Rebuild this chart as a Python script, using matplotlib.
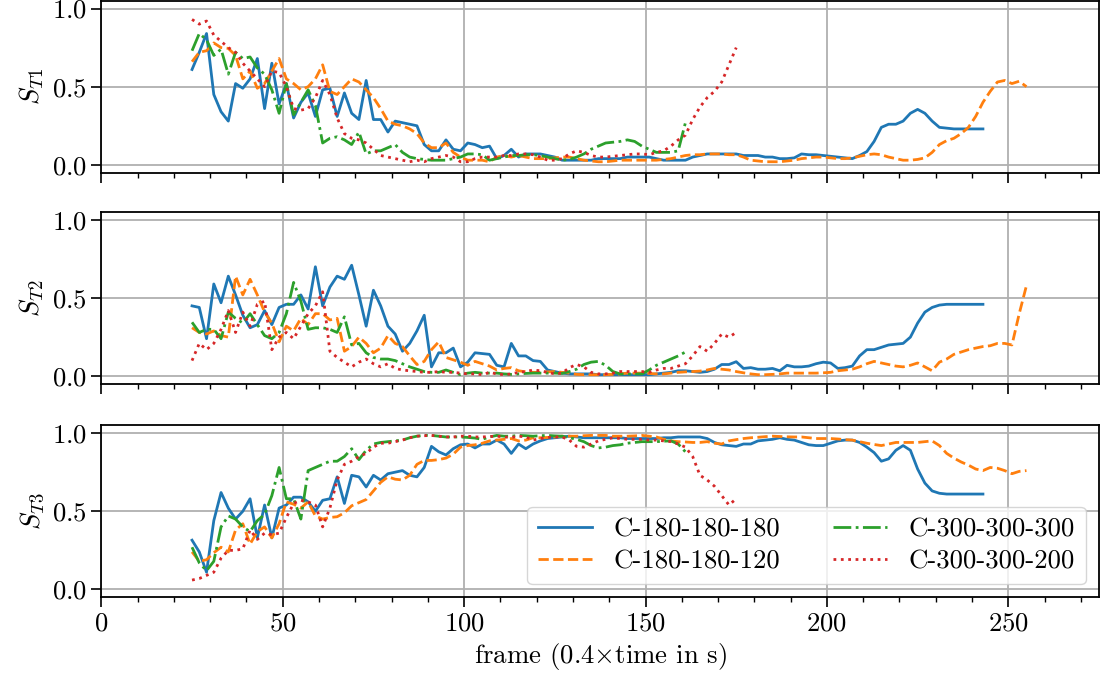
import numpy as np
import matplotlib
matplotlib.use("Agg")
import matplotlib.pyplot as plt
from matplotlib.ticker import MultipleLocator

plt.rcParams.update({
    "font.family": "serif",
    "font.serif": ["cmr10"],
    "mathtext.fontset": "cm",
    "axes.formatter.use_mathtext": True,
    "font.size": 19.3,
})

labels = ["C-180-180-180", "C-180-180-120", "C-300-300-300", "C-300-300-200"]
colors = ["#1f77b4", "#ff7f0e", "#2ca02c", "#d62728"]
styles = ["-", "--", "-.", ":"]
ylabels = [r"$S_{T1}$", r"$S_{T2}$", r"$S_{T3}$"]
first_frame = 25
frame_step = 2

# ---- S_T1 ----
st1_c180_180_180 = [
    0.61, 0.72, 0.84, 0.45, 0.34, 0.28, 0.52, 0.49, 0.55, 0.68,
    0.36, 0.65, 0.39, 0.52, 0.30, 0.40, 0.46, 0.31, 0.48, 0.49,
    0.31, 0.46, 0.33, 0.29, 0.54, 0.29, 0.29, 0.21, 0.28, 0.27,
    0.26, 0.25, 0.13, 0.09, 0.09, 0.16, 0.10, 0.09, 0.14, 0.13,
    0.11, 0.12, 0.04, 0.06, 0.10, 0.05, 0.07, 0.07, 0.07, 0.06,
    0.05, 0.03, 0.03, 0.03, 0.03, 0.03, 0.04, 0.04, 0.04, 0.04,
    0.05, 0.05, 0.05, 0.05, 0.04, 0.03, 0.03, 0.03, 0.03, 0.05,
    0.06, 0.07, 0.07, 0.07, 0.07, 0.07, 0.06, 0.06, 0.06, 0.05,
    0.05, 0.04, 0.04, 0.045, 0.07, 0.065, 0.065, 0.06, 0.055, 0.05,
    0.045, 0.04, 0.06, 0.085, 0.15, 0.24, 0.26, 0.26, 0.28, 0.33,
    0.355, 0.33, 0.28, 0.24, 0.235, 0.23, 0.23, 0.23, 0.23, 0.23]
st1_c180_180_120 = [
    0.66, 0.72, 0.73, 0.78, 0.75, 0.745, 0.70, 0.55, 0.60, 0.49,
    0.52, 0.60, 0.68, 0.55, 0.52, 0.48, 0.50, 0.55, 0.64, 0.47,
    0.45, 0.50, 0.55, 0.53, 0.48, 0.43, 0.36, 0.28, 0.26, 0.25,
    0.23, 0.20, 0.14, 0.11, 0.11, 0.14, 0.08, 0.05, 0.03, 0.03,
    0.03, 0.02, 0.05, 0.06, 0.05, 0.06, 0.05, 0.04, 0.04, 0.04,
    0.045, 0.05, 0.05, 0.04, 0.03, 0.025, 0.02, 0.02, 0.025, 0.03,
    0.03, 0.03, 0.03, 0.03, 0.03, 0.035, 0.04, 0.05, 0.06, 0.065,
    0.065, 0.07, 0.07, 0.07, 0.065, 0.065, 0.05, 0.03, 0.025, 0.02,
    0.02, 0.02, 0.025, 0.03, 0.04, 0.045, 0.05, 0.05, 0.045, 0.04,
    0.04, 0.045, 0.055, 0.065, 0.07, 0.065, 0.05, 0.04, 0.03, 0.03,
    0.035, 0.045, 0.08, 0.13, 0.155, 0.17, 0.20, 0.24, 0.31, 0.40,
    0.47, 0.53, 0.54, 0.52, 0.535, 0.50]
st1_c300_300_300 = [
    0.73, 0.84, 0.80, 0.70, 0.74, 0.58, 0.72, 0.68, 0.69, 0.62,
    0.58, 0.48, 0.33, 0.52, 0.32, 0.40, 0.48, 0.38, 0.14, 0.17,
    0.18, 0.16, 0.13, 0.21, 0.07, 0.09, 0.09, 0.11, 0.13, 0.08,
    0.05, 0.04, 0.035, 0.03, 0.03, 0.03, 0.04, 0.05, 0.07, 0.07,
    0.065, 0.03, 0.04, 0.05, 0.06, 0.06, 0.065, 0.065, 0.06, 0.05,
    0.04, 0.03, 0.035, 0.05, 0.07, 0.10, 0.12, 0.14, 0.145, 0.15,
    0.16, 0.15, 0.12, 0.10, 0.08, 0.08, 0.08, 0.09, 0.27]
st1_c300_300_200 = [
    0.93, 0.90, 0.92, 0.83, 0.79, 0.75, 0.72, 0.65, 0.60, 0.55,
    0.50, 0.60, 0.59, 0.50, 0.36, 0.35, 0.36, 0.43, 0.54, 0.45,
    0.30, 0.20, 0.17, 0.16, 0.14, 0.10, 0.06, 0.05, 0.04, 0.03,
    0.02, 0.03, 0.02, 0.04, 0.05, 0.06, 0.05, 0.02, 0.02, 0.04,
    0.05, 0.05, 0.05, 0.06, 0.06, 0.07, 0.07, 0.065, 0.05, 0.03,
    0.03, 0.04, 0.07, 0.09, 0.08, 0.06, 0.05, 0.05, 0.055, 0.06,
    0.065, 0.07, 0.07, 0.065, 0.08, 0.09, 0.12, 0.16, 0.19, 0.29,
    0.37, 0.43, 0.47, 0.53, 0.64, 0.75]

# ---- S_T2 ----
st2_c180_180_180 = [
    0.45, 0.44, 0.24, 0.59, 0.47, 0.64, 0.52, 0.39, 0.31, 0.33,
    0.42, 0.33, 0.44, 0.46, 0.46, 0.52, 0.43, 0.70, 0.45, 0.57,
    0.64, 0.62, 0.71, 0.52, 0.32, 0.55, 0.45, 0.32, 0.27, 0.16,
    0.21, 0.29, 0.39, 0.06, 0.15, 0.15, 0.18, 0.06, 0.09, 0.15,
    0.145, 0.14, 0.07, 0.06, 0.21, 0.13, 0.13, 0.10, 0.095, 0.04,
    0.03, 0.02, 0.015, 0.015, 0.015, 0.015, 0.01, 0.01, 0.01, 0.01,
    0.01, 0.01, 0.01, 0.01, 0.015, 0.02, 0.025, 0.035, 0.035, 0.03,
    0.025, 0.03, 0.045, 0.075, 0.075, 0.093, 0.05, 0.055, 0.045, 0.045,
    0.05, 0.035, 0.07, 0.06, 0.06, 0.065, 0.08, 0.09, 0.085, 0.05,
    0.055, 0.065, 0.13, 0.17, 0.17, 0.185, 0.20, 0.205, 0.21, 0.25,
    0.34, 0.41, 0.44, 0.455, 0.46, 0.46, 0.46, 0.46, 0.46, 0.46]
st2_c180_180_120 = [
    0.31, 0.28, 0.27, 0.29, 0.26, 0.25, 0.64, 0.52, 0.62, 0.52,
    0.41, 0.34, 0.22, 0.32, 0.29, 0.37, 0.33, 0.40, 0.40, 0.36,
    0.37, 0.16, 0.19, 0.25, 0.21, 0.15, 0.18, 0.26, 0.21, 0.19,
    0.13, 0.075, 0.095, 0.17, 0.22, 0.12, 0.105, 0.09, 0.07, 0.095,
    0.08, 0.065, 0.04, 0.05, 0.055, 0.035, 0.028, 0.025, 0.025, 0.028,
    0.03, 0.025, 0.02, 0.012, 0.01, 0.01, 0.01, 0.01, 0.012, 0.015,
    0.02, 0.02, 0.02, 0.018, 0.015, 0.015, 0.02, 0.025, 0.028, 0.03,
    0.033, 0.04, 0.05, 0.045, 0.04, 0.03, 0.022, 0.015, 0.01, 0.01,
    0.012, 0.015, 0.02, 0.02, 0.02, 0.02, 0.02, 0.022, 0.025, 0.035,
    0.04, 0.045, 0.06, 0.08, 0.095, 0.085, 0.075, 0.065, 0.06, 0.07,
    0.085, 0.06, 0.035, 0.09, 0.11, 0.14, 0.155, 0.17, 0.18, 0.19,
    0.195, 0.21, 0.21, 0.20, 0.40, 0.58]
st2_c300_300_300 = [
    0.345, 0.28, 0.30, 0.30, 0.24, 0.41, 0.37, 0.34, 0.40, 0.33,
    0.26, 0.24, 0.28, 0.40, 0.60, 0.48, 0.30, 0.31, 0.31, 0.30,
    0.28, 0.38, 0.20, 0.21, 0.15, 0.12, 0.11, 0.11, 0.10, 0.08,
    0.06, 0.045, 0.03, 0.025, 0.025, 0.04, 0.025, 0.01, 0.02, 0.025,
    0.02, 0.02, 0.02, 0.015, 0.012, 0.015, 0.018, 0.02, 0.02, 0.02,
    0.02, 0.018, 0.03, 0.045, 0.075, 0.09, 0.095, 0.07, 0.03, 0.015,
    0.015, 0.015, 0.015, 0.04, 0.07, 0.09, 0.11, 0.13, 0.155]
st2_c300_300_200 = [
    0.10, 0.21, 0.17, 0.21, 0.30, 0.42, 0.28, 0.41, 0.32, 0.46,
    0.48, 0.17, 0.25, 0.28, 0.24, 0.32, 0.40, 0.45, 0.54, 0.16,
    0.12, 0.09, 0.06, 0.09, 0.11, 0.08, 0.06, 0.08, 0.05, 0.04,
    0.035, 0.03, 0.025, 0.025, 0.03, 0.025, 0.025, 0.02, 0.015, 0.015,
    0.01, 0.025, 0.015, 0.01, 0.015, 0.025, 0.03, 0.04, 0.035, 0.025,
    0.015, 0.02, 0.055, 0.075, 0.06, 0.025, 0.015, 0.015, 0.02, 0.03,
    0.03, 0.03, 0.03, 0.025, 0.04, 0.05, 0.05, 0.065, 0.08, 0.13,
    0.19, 0.16, 0.21, 0.27, 0.25, 0.28]

# ---- S_T3 ----
st3_c180_180_180 = [
    0.315, 0.24, 0.11, 0.44, 0.62, 0.52, 0.45, 0.50, 0.58, 0.33,
    0.54, 0.33, 0.52, 0.54, 0.59, 0.59, 0.56, 0.50, 0.57, 0.58,
    0.72, 0.55, 0.73, 0.72, 0.655, 0.73, 0.70, 0.74, 0.75, 0.76,
    0.73, 0.72, 0.78, 0.915, 0.88, 0.86, 0.90, 0.925, 0.93, 0.905,
    0.93, 0.93, 0.955, 0.93, 0.87, 0.93, 0.90, 0.93, 0.95, 0.965,
    0.97, 0.975, 0.98, 0.975, 0.97, 0.97, 0.97, 0.97, 0.97, 0.97,
    0.965, 0.965, 0.965, 0.965, 0.965, 0.97, 0.97, 0.975, 0.975, 0.975,
    0.975, 0.965, 0.94, 0.925, 0.92, 0.915, 0.93, 0.93, 0.95, 0.955,
    0.96, 0.97, 0.96, 0.955, 0.94, 0.925, 0.92, 0.92, 0.935, 0.95,
    0.955, 0.955, 0.94, 0.91, 0.875, 0.82, 0.835, 0.89, 0.92, 0.89,
    0.77, 0.68, 0.63, 0.615, 0.61, 0.61, 0.61, 0.61, 0.61, 0.61]
st3_c180_180_120 = [
    0.24, 0.18, 0.19, 0.235, 0.27, 0.24, 0.38, 0.42, 0.29, 0.37,
    0.40, 0.33, 0.42, 0.56, 0.545, 0.52, 0.56, 0.47, 0.45, 0.46,
    0.465, 0.49, 0.535, 0.555, 0.575, 0.63, 0.685, 0.72, 0.705, 0.70,
    0.73, 0.80, 0.825, 0.825, 0.83, 0.84, 0.865, 0.91, 0.92, 0.925,
    0.935, 0.95, 0.955, 0.96, 0.965, 0.95, 0.955, 0.97, 0.97, 0.972,
    0.975, 0.98, 0.98, 0.98, 0.983, 0.985, 0.985, 0.985, 0.98, 0.98,
    0.98, 0.982, 0.985, 0.98, 0.975, 0.96, 0.95, 0.945, 0.943, 0.94,
    0.94, 0.945, 0.935, 0.93, 0.95, 0.958, 0.965, 0.97, 0.973, 0.977,
    0.98, 0.978, 0.976, 0.975, 0.975, 0.97, 0.965, 0.965, 0.965, 0.962,
    0.958, 0.955, 0.945, 0.935, 0.927, 0.92, 0.93, 0.94, 0.94, 0.94,
    0.94, 0.945, 0.95, 0.92, 0.87, 0.84, 0.815, 0.795, 0.77, 0.76,
    0.78, 0.775, 0.76, 0.74, 0.755, 0.76]
st3_c300_300_300 = [
    0.27, 0.17, 0.12, 0.18, 0.40, 0.47, 0.45, 0.40, 0.37, 0.44,
    0.48, 0.60, 0.78, 0.58, 0.58, 0.45, 0.76, 0.78, 0.80, 0.82,
    0.82, 0.85, 0.90, 0.83, 0.89, 0.93, 0.94, 0.945, 0.95, 0.955,
    0.97, 0.98, 0.985, 0.985, 0.98, 0.975, 0.975, 0.975, 0.972, 0.968,
    0.96, 0.975, 0.985, 0.98, 0.98, 0.985, 0.983, 0.98, 0.983, 0.985,
    0.982, 0.98, 0.97, 0.96, 0.945, 0.92, 0.905, 0.91, 0.92, 0.925,
    0.935, 0.94, 0.945, 0.945, 0.945, 0.948, 0.95, 0.93, 0.88]
st3_c300_300_200 = [
    0.06, 0.07, 0.09, 0.11, 0.20, 0.25, 0.25, 0.26, 0.38, 0.32,
    0.36, 0.35, 0.36, 0.46, 0.55, 0.57, 0.56, 0.54, 0.40, 0.52,
    0.70, 0.80, 0.82, 0.85, 0.87, 0.91, 0.935, 0.935, 0.945, 0.955,
    0.97, 0.98, 0.983, 0.985, 0.98, 0.975, 0.975, 0.98, 0.98, 0.975,
    0.975, 0.978, 0.98, 0.975, 0.972, 0.98, 0.975, 0.955, 0.965, 0.972,
    0.975, 0.975, 0.955, 0.915, 0.91, 0.93, 0.95, 0.96, 0.97, 0.965,
    0.96, 0.96, 0.96, 0.955, 0.955, 0.95, 0.945, 0.93, 0.91, 0.85,
    0.73, 0.70, 0.66, 0.60, 0.54, 0.58]

panels = [
    [st1_c180_180_180, st1_c180_180_120, st1_c300_300_300, st1_c300_300_200],
    [st2_c180_180_180, st2_c180_180_120, st2_c300_300_300, st2_c300_300_200],
    [st3_c180_180_180, st3_c180_180_120, st3_c300_300_300, st3_c300_300_200],
]

fig = plt.figure(figsize=(11.05, 6.84), dpi=100)
left, width, height = 0.0917, 0.9029, 0.2515
bottoms = [0.7475, 0.4385, 0.1268]

axes = []
for i, b in enumerate(bottoms):
    ax = fig.add_axes([left, b, width, height], sharex=axes[0] if axes else None)
    axes.append(ax)

for ax, series, ylab in zip(axes, panels, ylabels):
    for vals, lab, col, ls in zip(series, labels, colors, styles):
        frames = first_frame + frame_step * np.arange(len(vals))
        ax.plot(frames, vals, color=col, linestyle=ls, linewidth=2.0, label=lab)
    ax.set_ylim(-0.05, 1.05)
    ax.set_yticks([0.0, 0.5, 1.0])
    ax.set_ylabel(ylab)
    ax.grid(True, color="#b0b0b0", linewidth=1.3)
    ax.set_axisbelow(True)
    ax.xaxis.set_major_locator(MultipleLocator(50))
    ax.xaxis.set_minor_locator(MultipleLocator(10))
    ax.tick_params(which="major", length=7, width=1.2, direction="out")
    ax.tick_params(which="minor", length=3.5, width=1.0, direction="out")
    for sp in ax.spines.values():
        sp.set_linewidth(1.3)
    if ax is not axes[-1]:
        ax.tick_params(labelbottom=False)

axes[0].set_xlim(0, 275)
axes[-1].set_xlabel(r"frame (0.4$\times$time in s)")
axes[-1].legend(loc="lower right", ncol=2, framealpha=0.8, labelspacing=0.3)
fig.align_ylabels(axes)

fig.savefig("out.png", dpi=100)
